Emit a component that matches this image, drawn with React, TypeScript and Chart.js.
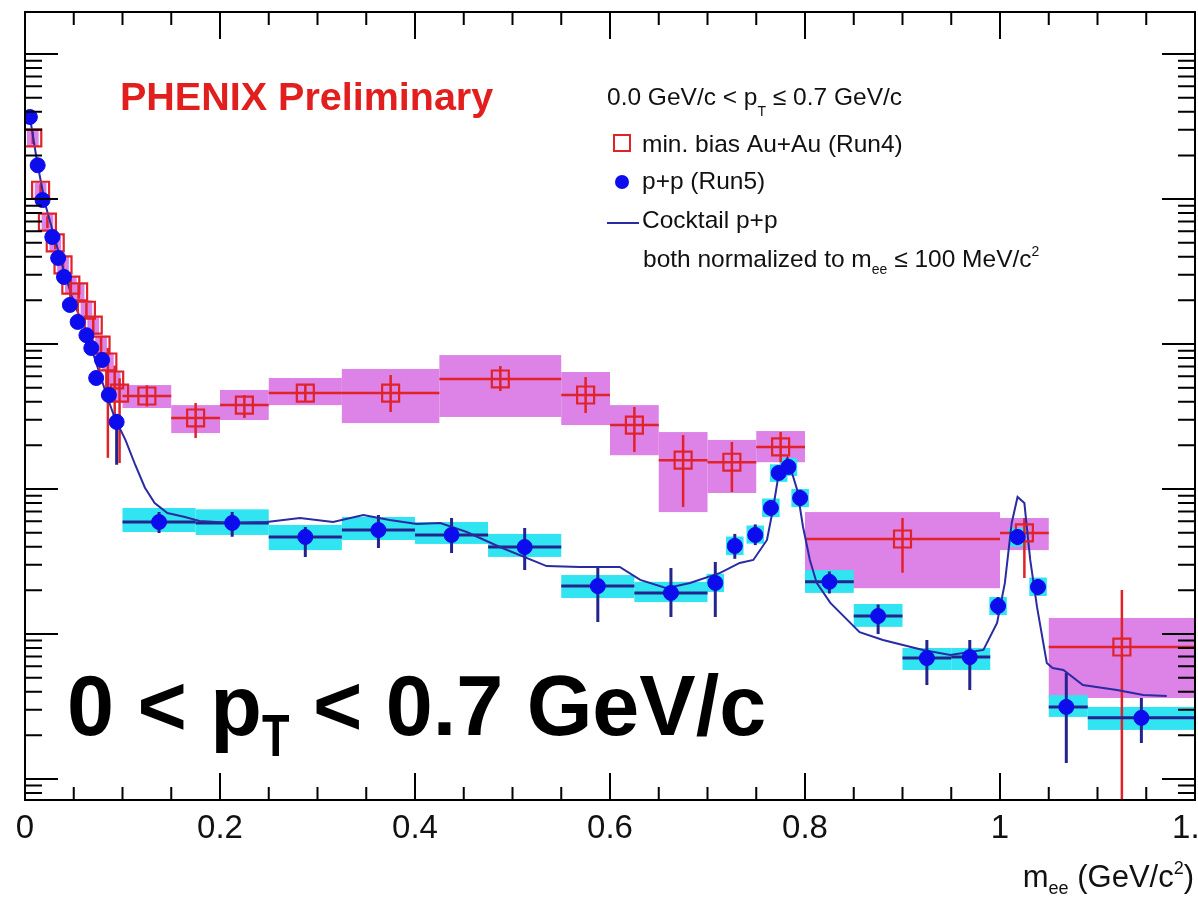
import { useEffect, useRef } from 'react';
import { Chart, registerables } from 'chart.js';

Chart.register(...registerables);

// ---------- data ----------
const X_MIN = 0;
const X_MAX = 1.2;
const Y_MIN = 7.16e-6;
const Y_MAX = 1.95;
const xTickValues = [0, 0.2, 0.4, 0.6, 0.8, 1.0, 1.2];
const xTickLabels = ['0', '0.2', '0.4', '0.6', '0.8', '1', '1.2'];

// Cocktail p+p
const cocktailX = [0.005,0.013,0.021,0.031,0.041,0.051,0.062,0.072,0.082,0.092,0.103,0.113,0.123,0.133,0.146,0.164,0.179,0.213,0.248,0.282,0.316,0.347,0.374,0.402,0.426,0.453,0.487,0.535,0.569,0.610,0.631,0.658,0.682,0.713,0.733,0.747,0.761,0.767,0.772,0.782,0.792,0.798,0.805,0.812,0.826,0.856,0.880,0.921,0.949,0.983,0.997,1.005,1.012,1.018,1.025,1.031,1.038,1.048,1.054,1.065,1.085,1.120,1.147,1.171];
const cocktailY = [0.368,0.171,0.091,0.0521,0.0299,0.0186,0.0125,0.00776,0.00482,0.00309,0.00218,0.00147,0.00102,8.0e-4,6.82e-4,6.41e-4,6.01e-4,5.83e-4,5.92e-4,6.31e-4,5.92e-4,6.62e-4,6.11e-4,5.74e-4,5.83e-4,5.05e-4,3.98e-4,2.94e-4,2.90e-4,2.90e-4,2.36e-4,2.07e-4,2.25e-4,2.64e-4,3.09e-4,3.24e-4,4.45e-4,7.16e-4,1.15e-3,1.64e-3,9.84e-4,5.47e-4,3.24e-4,2.25e-4,1.64e-4,1.03e-4,9.1e-5,7.76e-5,7.16e-5,7.76e-5,1.19e-4,2.25e-4,5.83e-4,8.81e-4,8.0e-4,3.24e-4,1.53e-4,6.31e-5,5.83e-5,5.65e-5,4.45e-5,4.11e-5,3.79e-5,3.73e-5];

// min. bias Au+Au (Run4)
const auX = [0.008,0.016,0.023,0.031,0.039,0.047,0.055,0.063,0.070,0.078,0.085,0.092,0.097,0.125,0.175,0.225,0.2875,0.375,0.4875,0.575,0.625,0.675,0.725,0.775,0.9,1.025,1.125];
const auY = [0.264,0.115,0.0693,0.0498,0.0351,0.0255,0.0229,0.0171,0.0135,0.00984,0.00752,0.00565,0.00459,0.00438,0.00309,0.00379,0.00459,0.00459,0.00574,0.00445,0.00276,0.00158,0.00153,0.00195,4.52e-4,4.98e-4,8.13e-5];
const auXLo = [0.002,0.010,0.017,0.025,0.033,0.041,0.049,0.057,0.064,0.072,0.079,0.086,0.091,0.1,0.15,0.2,0.25,0.325,0.425,0.55,0.6,0.65,0.7,0.75,0.8,1.0,1.05];
const auXHi = [0.014,0.022,0.029,0.037,0.045,0.053,0.061,0.069,0.076,0.084,0.091,0.098,0.103,0.15,0.2,0.25,0.325,0.425,0.55,0.6,0.65,0.7,0.75,0.8,1.0,1.05,1.2];
const auErrLo = [0.24,0.105,0.063,0.045,0.032,0.023,0.0205,0.0152,0.0118,0.0084,0.00164,0.0030,0.00151,0.0037,0.00225,0.00309,0.00398,0.0034,0.00474,0.00334,0.0018,7.52e-4,9.53e-4,0.00153,2.64e-4,2.43e-4,5e-6];
const auErrHi = [0.29,0.126,0.076,0.055,0.039,0.028,0.0255,0.0192,0.0153,0.0114,0.0094,0.0071,0.0058,0.0052,0.00392,0.00445,0.00521,0.00611,0.00705,0.00592,0.00368,0.00236,0.00211,0.00247,6.31e-4,6.31e-4,2.01e-4];
const auSysLo = [0.23,0.10,0.060,0.043,0.030,0.022,0.020,0.015,0.0116,0.0085,0.0065,0.0049,0.0040,0.00362,0.00243,0.00299,0.00379,0.00285,0.00314,0.00276,0.00171,6.93e-4,9.38e-4,0.00153,2.07e-4,3.79e-4,3.62e-5];
const auSysHi = [0.30,0.13,0.080,0.057,0.040,0.029,0.026,0.020,0.0156,0.0114,0.0087,0.0065,0.0053,0.00521,0.00379,0.00482,0.00583,0.00673,0.00839,0.00641,0.00379,0.00247,0.00218,0.00251,6.93e-4,6.31e-4,1.29e-4];

// p+p (Run5)
const ppX = [0.005,0.013,0.018,0.028,0.034,0.040,0.046,0.054,0.063,0.068,0.073,0.079,0.086,0.094,0.1375,0.2125,0.2875,0.3625,0.4375,0.5125,0.5875,0.6625,0.708,0.728,0.749,0.765,0.773,0.783,0.795,0.825,0.875,0.925,0.969,0.998,1.018,1.039,1.068,1.145];
const ppY = [0.368,0.171,0.0984,0.0547,0.0392,0.0290,0.0186,0.0142,0.0115,0.00938,0.00583,0.00776,0.00445,0.00290,5.92e-4,5.83e-4,4.67e-4,5.21e-4,4.82e-4,3.98e-4,2.14e-4,1.92e-4,2.25e-4,4.05e-4,4.82e-4,7.40e-4,1.29e-3,1.42e-3,8.67e-4,2.29e-4,1.33e-4,6.82e-5,6.93e-5,1.56e-4,4.67e-4,2.11e-4,3.14e-5,2.64e-5];
const ppXLo = [0.002,0.010,0.015,0.025,0.031,0.037,0.043,0.051,0.060,0.065,0.070,0.076,0.083,0.091,0.1,0.175,0.25,0.325,0.4,0.475,0.55,0.625,0.699,0.719,0.740,0.756,0.764,0.774,0.786,0.8,0.85,0.9,0.95,0.989,1.009,1.030,1.05,1.09];
const ppXHi = [0.008,0.016,0.021,0.031,0.037,0.043,0.049,0.057,0.066,0.071,0.076,0.082,0.089,0.097,0.175,0.25,0.325,0.4,0.475,0.55,0.625,0.7,0.717,0.737,0.758,0.774,0.782,0.792,0.804,0.85,0.9,0.95,0.99,1.007,1.027,1.048,1.09,1.2];
const ppErrLo = [0.345,0.16,0.092,0.051,0.0366,0.027,0.0173,0.0132,0.0107,0.0087,0.0054,0.0072,0.0041,0.00147,4.98e-4,4.69e-4,3.40e-4,3.92e-4,3.62e-4,2.76e-4,1.21e-4,1.31e-4,1.31e-4,3.3e-4,4.1e-4,6.6e-4,1.15e-3,1.27e-3,7.6e-4,1.9e-4,1.0e-4,4.45e-5,4.1e-5,1.35e-4,4.1e-4,1.85e-4,1.29e-5,1.77e-5];
const ppErrHi = [0.39,0.182,0.105,0.058,0.042,0.031,0.0199,0.0152,0.0123,0.0100,0.0063,0.0083,0.0048,0.0033,6.93e-4,6.93e-4,5.47e-4,6.62e-4,6.31e-4,5.38e-4,2.90e-4,2.85e-4,3.14e-4,4.9e-4,5.7e-4,8.4e-4,1.45e-3,1.58e-3,9.9e-4,2.7e-4,1.6e-4,9.1e-5,9.1e-5,1.8e-4,5.3e-4,2.4e-4,5.38e-5,3.62e-5];
const ppSysLo = [null,null,null,null,null,null,null,null,null,null,null,null,null,null,5.05e-4,4.82e-4,3.79e-4,4.45e-4,4.18e-4,3.40e-4,1.77e-4,1.66e-4,1.95e-4,3.5e-4,4.2e-4,6.4e-4,1.12e-3,1.23e-3,7.5e-4,1.92e-4,1.12e-4,5.65e-5,5.65e-5,1.35e-4,4.0e-4,1.83e-4,2.68e-5,2.18e-5];
const ppSysHi = [null,null,null,null,null,null,null,null,null,null,null,null,null,null,7.40e-4,7.24e-4,5.65e-4,6.41e-4,5.92e-4,4.90e-4,2.55e-4,2.29e-4,2.6e-4,4.7e-4,5.6e-4,8.6e-4,1.48e-3,1.64e-3,1.0e-3,2.76e-4,1.61e-4,8.0e-5,8.0e-5,1.8e-4,5.4e-4,2.45e-4,3.79e-5,3.14e-5];

// ---------- styles ----------
const FONT = "'Liberation Sans', Arial, Helvetica, sans-serif";
const RED = '#df2328';
const MAGENTA = '#dd82e6';
const CYAN = '#30e4f2';
const BLUE = '#0c0cec';
const NAVY = '#24248e';
const LINE = '#2a2aa2';

type Part = { t: string; size: number; bold?: boolean; dy?: number; sx?: number };

function drawRuns(ctx: CanvasRenderingContext2D, x: number, y: number, parts: Part[], color: string) {
  let cx = x;
  ctx.fillStyle = color;
  ctx.textBaseline = 'alphabetic';
  ctx.textAlign = 'left';
  for (const p of parts) {
    ctx.font = `${p.bold ? 'bold ' : ''}${p.size}px ${FONT}`;
    const w = ctx.measureText(p.t).width * (p.sx ?? 1);
    ctx.save();
    ctx.translate(cx, y + (p.dy ?? 0));
    ctx.scale(p.sx ?? 1, 1);
    ctx.fillText(p.t, 0, 0);
    ctx.restore();
    cx += w;
  }
  return cx;
}

function runsWidth(ctx: CanvasRenderingContext2D, parts: Part[]) {
  let w = 0;
  for (const p of parts) {
    ctx.font = `${p.bold ? 'bold ' : ''}${p.size}px ${FONT}`;
    w += ctx.measureText(p.t).width * (p.sx ?? 1);
  }
  return w;
}

const phenixPlugin = {
  id: 'phenixDecor',
  beforeDatasetsDraw(chart: any) {
    const { ctx, chartArea: a } = chart;
    const xs = chart.scales.x;
    const ys = chart.scales.y;
    const px = (v: number) => xs.getPixelForValue(v);
    const py = (v: number) => ys.getPixelForValue(v);
    ctx.save();
    ctx.beginPath();
    ctx.rect(a.left, a.top, a.right - a.left, a.bottom - a.top);
    ctx.clip();

    ctx.fillStyle = MAGENTA;
    auX.forEach((_, i) => {
      const x0 = px(auXLo[i]);
      const x1 = px(auXHi[i]);
      const y0 = py(auSysHi[i]);
      const y1 = py(auSysLo[i]);
      ctx.fillRect(x0, y0, x1 - x0, y1 - y0);
    });
    ctx.fillStyle = CYAN;
    ppX.forEach((_, i) => {
      const lo = ppSysLo[i];
      const hi = ppSysHi[i];
      if (lo == null || hi == null) return;
      const x0 = px(ppXLo[i]);
      const x1 = px(ppXHi[i]);
      const y0 = py(hi);
      const y1 = py(lo);
      ctx.fillRect(x0, y0, x1 - x0, y1 - y0);
    });

    ctx.strokeStyle = RED;
    ctx.lineWidth = 2.5;
    auX.forEach((xv, i) => {
      ctx.beginPath();
      if (auXHi[i] - auXLo[i] > 0.03) {
        ctx.moveTo(px(auXLo[i]), py(auY[i]));
        ctx.lineTo(px(auXHi[i]), py(auY[i]));
      }
      ctx.moveTo(px(xv), py(auErrLo[i]));
      ctx.lineTo(px(xv), py(auErrHi[i]));
      ctx.stroke();
    });
    ctx.strokeStyle = NAVY;
    ctx.lineWidth = 3;
    ppX.forEach((xv, i) => {
      ctx.beginPath();
      if (ppXHi[i] - ppXLo[i] > 0.03) {
        ctx.moveTo(px(ppXLo[i]), py(ppY[i]));
        ctx.lineTo(px(ppXHi[i]), py(ppY[i]));
      }
      ctx.moveTo(px(xv), py(ppErrLo[i]));
      ctx.lineTo(px(xv), py(ppErrHi[i]));
      ctx.stroke();
    });
    ctx.restore();
  },
  afterDraw(chart: any) {
    const { ctx, chartArea: a } = chart;
    const xs = chart.scales.x;
    const ys = chart.scales.y;
    ctx.save();
    ctx.strokeStyle = '#000';
    ctx.lineWidth = 2;
    ctx.strokeRect(a.left, a.top, a.right - a.left, a.bottom - a.top);

    ctx.beginPath();
    for (let i = 0; i <= 24; i++) {
      const v = X_MIN + i * 0.05;
      if (v > X_MAX + 1e-9) break;
      const p = xs.getPixelForValue(v);
      const len = i % 4 === 0 ? 27 : 13;
      ctx.moveTo(p, a.bottom);
      ctx.lineTo(p, a.bottom - len);
      ctx.moveTo(p, a.top);
      ctx.lineTo(p, a.top + len);
    }
    for (let d = -6; d <= 0; d++) {
      for (let m = 1; m <= 9; m++) {
        const v = m * Math.pow(10, d);
        if (v < Y_MIN || v > Y_MAX) continue;
        const p = ys.getPixelForValue(v);
        const len = m === 1 ? 33 : 17;
        ctx.moveTo(a.left, p);
        ctx.lineTo(a.left + len, p);
        ctx.moveTo(a.right, p);
        ctx.lineTo(a.right - len, p);
      }
    }
    ctx.stroke();

    // x tick labels
    ctx.fillStyle = '#111';
    ctx.font = `33px ${FONT}`;
    ctx.textAlign = 'center';
    ctx.textBaseline = 'alphabetic';
    xTickValues.forEach((v, i) => {
      ctx.fillText(xTickLabels[i], xs.getPixelForValue(v), a.bottom + 38);
    });

    drawRuns(ctx, 120, 110, [{ t: 'PHENIX Preliminary', size: 39.5, bold: true }], '#e21f1f');

    drawRuns(ctx, 607, 105, [
      { t: '0.0 GeV/c < p', size: 24.5 },
      { t: 'T', size: 14, dy: 11 },
      { t: ' \u2264 0.7 GeV/c', size: 24.5 },
    ], '#111');
    ctx.strokeStyle = RED;
    ctx.lineWidth = 2;
    ctx.strokeRect(614, 135, 16, 16);
    drawRuns(ctx, 642, 152, [{ t: 'min. bias Au+Au (Run4)', size: 24.5 }], '#111');
    ctx.fillStyle = BLUE;
    ctx.beginPath();
    ctx.arc(622, 182, 7, 0, Math.PI * 2);
    ctx.fill();
    drawRuns(ctx, 642, 189, [{ t: 'p+p (Run5)', size: 24.5 }], '#111');
    ctx.strokeStyle = LINE;
    ctx.lineWidth = 2;
    ctx.beginPath();
    ctx.moveTo(607, 223);
    ctx.lineTo(639, 223);
    ctx.stroke();
    drawRuns(ctx, 642, 228, [{ t: 'Cocktail p+p', size: 24.5 }], '#111');
    drawRuns(ctx, 643, 267, [
      { t: 'both normalized to m', size: 24.5 },
      { t: 'ee', size: 14, dy: 7 },
      { t: ' \u2264 100 MeV/c', size: 24.5 },
      { t: '2', size: 14, dy: -11 },
    ], '#111');

    drawRuns(ctx, 67, 735, [
      { t: '0 < p', size: 84.5, bold: true },
      { t: 'T', size: 60, bold: true, dy: 21, sx: 0.75 },
      { t: ' < 0.7 GeV/c', size: 84.5, bold: true },
    ], '#000');

    const titleParts: Part[] = [
      { t: 'm', size: 31 },
      { t: 'ee', size: 18, dy: 7 },
      { t: ' (GeV/c', size: 31 },
      { t: '2', size: 18, dy: -13 },
      { t: ')', size: 31 },
    ];
    const tw = runsWidth(ctx, titleParts);
    drawRuns(ctx, 1194 - tw, 887, titleParts, '#111');
    ctx.restore();
  },
};

export default function App() {
  const ref = useRef<HTMLCanvasElement | null>(null);
  useEffect(() => {
    if (!ref.current) return;
    const chart = new Chart(ref.current, {
      type: 'scatter',
      data: {
        datasets: [
          {
            label: 'p+p (Run5)',
            data: ppX.map((x, i) => ({ x, y: ppY[i] })),
            pointStyle: 'circle',
            pointRadius: 7.5,
            backgroundColor: BLUE,
            borderColor: BLUE,
            borderWidth: 1,
          },
          {
            label: 'min. bias Au+Au (Run4)',
            data: auX.map((x, i) => ({ x, y: auY[i] })),
            pointStyle: 'rect',
            pointRadius: 12,
            backgroundColor: 'rgba(0,0,0,0)',
            borderColor: RED,
            borderWidth: 2.2,
          },
          {
            label: 'Cocktail p+p',
            data: cocktailX.map((x, i) => ({ x, y: cocktailY[i] })),
            showLine: true,
            pointRadius: 0,
            borderColor: LINE,
            borderWidth: 2,
            tension: 0,
            fill: false,
          } as any,
        ],
      },
      options: {
        responsive: false,
        animation: false,
        layout: { autoPadding: false, padding: { left: 25, right: 3, top: 12, bottom: 0 } },
        plugins: { legend: { display: false }, tooltip: { enabled: false } },
        scales: {
          x: {
            type: 'linear',
            min: X_MIN,
            max: X_MAX,
            ticks: { display: false },
            grid: { display: false, drawTicks: false },
            border: { display: false },
            afterFit: (s: any) => {
              s.height = 98;
              s.paddingLeft = 0;
              s.paddingRight = 0;
            },
          },
          y: {
            type: 'logarithmic',
            min: Y_MIN,
            max: Y_MAX,
            display: false,
          },
        },
      } as any,
      plugins: [phenixPlugin],
    });
    return () => chart.destroy();
  }, []);
  return (
    <div style={{ position: 'absolute', left: 0, top: 0, width: 1198, height: 898, background: '#fff' }}>
      <canvas ref={ref} width={1198} height={898} style={{ display: 'block' }} />
    </div>
  );
}
